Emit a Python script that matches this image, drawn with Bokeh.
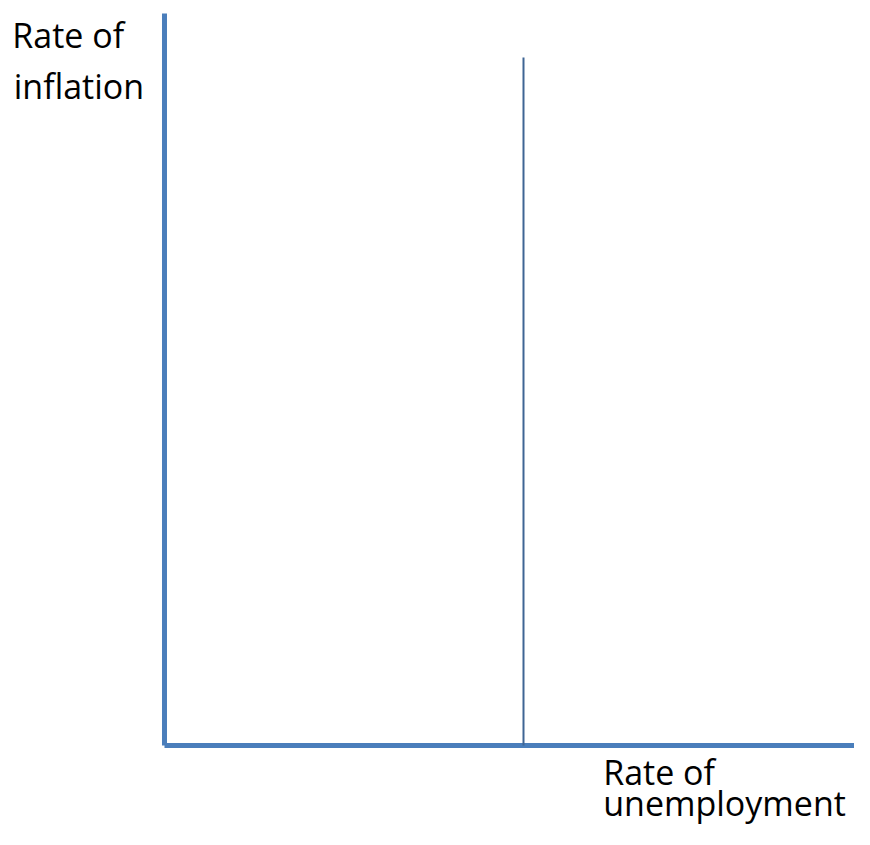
from bokeh.plotting import figure
from bokeh.models import Range1d
from bokeh.embed import file_html
from bokeh.resources import INLINE
from bokeh.core.properties import value

# Data (chart units: origin of the axes at 0,0)
axis_x_end = 9.9          # right end of the horizontal axis
axis_y_end = 10.0         # top of the vertical axis
natural_rate = [5.0]      # vertical line position (natural rate of unemployment)
natural_top = [9.4]       # top of the vertical line
y_label_lines = ["Rate of", "inflation"]
x_label_lines = ["Rate of", "unemployment"]

W, H = 854, 829
p = figure(width=W, height=H, output_backend="svg", toolbar_location=None,
           x_range=Range1d(-2.284, 9.61), y_range=Range1d(-1.147, 10.178),
           min_border=0, min_border_left=0, min_border_right=0,
           min_border_top=0, min_border_bottom=0)
p.axis.visible = False
p.grid.visible = False
p.outline_line_color = None
p.background_fill_color = "white"
p.border_fill_color = "white"

axis_col = "#4a7ebb"
# vertical axis
p.segment(x0=[0], y0=[0], x1=[0], y1=[axis_y_end], line_color=axis_col, line_width=5)
# horizontal axis
p.segment(x0=[0], y0=[0], x1=[axis_x_end], y1=[0], line_color=axis_col, line_width=5)
# natural rate vertical line
p.segment(x0=natural_rate, y0=[0], x1=natural_rate, y1=natural_top,
          line_color="#3f6594", line_width=2)

font = value("Open Sans")
p.text(x=[-2.12, -2.10], y=[9.70, 9.01], text=y_label_lines,
       text_font=font, text_font_size="34px", text_color="black",
       text_baseline="alphabetic", text_align="left")
p.text(x=[6.11, 6.11], y=[-0.36, -0.79], text=x_label_lines,
       text_font=font, text_font_size="34px", text_color="black",
       text_baseline="alphabetic", text_align="left")

open("out.html", "w").write(file_html(p, INLINE))
